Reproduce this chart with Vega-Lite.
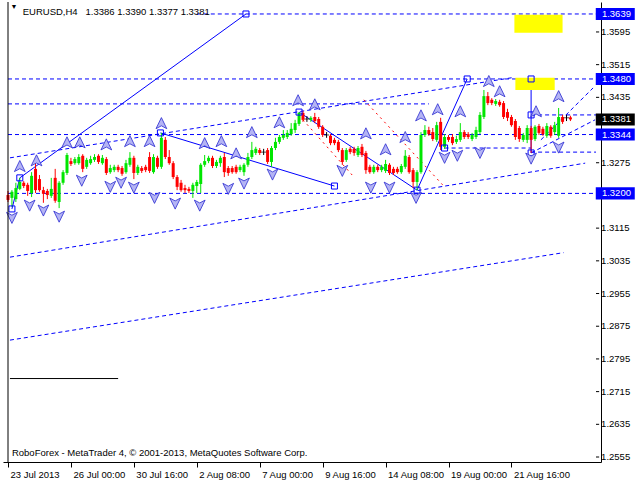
{
"$schema":"https://vega.github.io/schema/vega-lite/v6.json",
"width":598,"height":460,"autosize":{"type":"none"},
"padding":{"left":3,"top":2,"right":39,"bottom":18},
"background":"white",
"config":{"view":{"stroke":null},"axis":{"labelFont":"Liberation Sans","labelFontSize":9.5,"labelColor":"black","tickColor":"black","domainColor":"black","grid":false,"title":null},"text":{"font":"Liberation Sans"}},
"datasets":{
"candles":[
{"i":0,"o":1.3196,"h":1.3206,"l":1.3179,"c":1.3184},
{"i":1,"o":1.3189,"h":1.3208,"l":1.3167,"c":1.3204},
{"i":2,"o":1.3186,"h":1.3226,"l":1.3179,"c":1.3213},
{"i":3,"o":1.3211,"h":1.3238,"l":1.3208,"c":1.3228},
{"i":4,"o":1.3226,"h":1.3230,"l":1.3213,"c":1.3218},
{"i":5,"o":1.3221,"h":1.3226,"l":1.3194,"c":1.3206},
{"i":6,"o":1.3201,"h":1.3252,"l":1.3191,"c":1.3243},
{"i":7,"o":1.3260,"h":1.3277,"l":1.3201,"c":1.3208},
{"i":8,"o":1.3235,"h":1.3245,"l":1.3204,"c":1.3208},
{"i":9,"o":1.3208,"h":1.3216,"l":1.3177,"c":1.3199},
{"i":10,"o":1.3206,"h":1.3211,"l":1.3186,"c":1.3196},
{"i":11,"o":1.3194,"h":1.3238,"l":1.3189,"c":1.3211},
{"i":12,"o":1.3238,"h":1.3260,"l":1.3177,"c":1.3182},
{"i":13,"o":1.3179,"h":1.3230,"l":1.3164,"c":1.3226},
{"i":14,"o":1.3226,"h":1.3257,"l":1.3221,"c":1.3252},
{"i":15,"o":1.3250,"h":1.3299,"l":1.3245,"c":1.3294},
{"i":16,"o":1.3279,"h":1.3287,"l":1.3267,"c":1.3272},
{"i":17,"o":1.3274,"h":1.3289,"l":1.3270,"c":1.3284},
{"i":18,"o":1.3274,"h":1.3296,"l":1.3270,"c":1.3289},
{"i":19,"o":1.3292,"h":1.3296,"l":1.3252,"c":1.3260},
{"i":20,"o":1.3265,"h":1.3287,"l":1.3260,"c":1.3282},
{"i":21,"o":1.3274,"h":1.3292,"l":1.3270,"c":1.3284},
{"i":22,"o":1.3282,"h":1.3296,"l":1.3277,"c":1.3289},
{"i":23,"o":1.3292,"h":1.3296,"l":1.3272,"c":1.3277},
{"i":24,"o":1.3274,"h":1.3294,"l":1.3270,"c":1.3287},
{"i":25,"o":1.3284,"h":1.3289,"l":1.3245,"c":1.3250},
{"i":26,"o":1.3252,"h":1.3270,"l":1.3248,"c":1.3262},
{"i":27,"o":1.3257,"h":1.3270,"l":1.3252,"c":1.3265},
{"i":28,"o":1.3265,"h":1.3270,"l":1.3252,"c":1.3257},
{"i":29,"o":1.3262,"h":1.3267,"l":1.3243,"c":1.3248},
{"i":30,"o":1.3252,"h":1.3282,"l":1.3248,"c":1.3274},
{"i":31,"o":1.3270,"h":1.3301,"l":1.3265,"c":1.3287},
{"i":32,"o":1.3287,"h":1.3292,"l":1.3235,"c":1.3250},
{"i":33,"o":1.3250,"h":1.3270,"l":1.3245,"c":1.3265},
{"i":34,"o":1.3262,"h":1.3267,"l":1.3250,"c":1.3255},
{"i":35,"o":1.3265,"h":1.3270,"l":1.3252,"c":1.3257},
{"i":36,"o":1.3289,"h":1.3301,"l":1.3250,"c":1.3255},
{"i":37,"o":1.3252,"h":1.3296,"l":1.3248,"c":1.3289},
{"i":38,"o":1.3287,"h":1.3292,"l":1.3260,"c":1.3265},
{"i":39,"o":1.3265,"h":1.3348,"l":1.3260,"c":1.3336},
{"i":40,"o":1.3331,"h":1.3338,"l":1.3284,"c":1.3289},
{"i":41,"o":1.3289,"h":1.3306,"l":1.3270,"c":1.3274},
{"i":42,"o":1.3274,"h":1.3279,"l":1.3235,"c":1.3240},
{"i":43,"o":1.3240,"h":1.3245,"l":1.3208,"c":1.3216},
{"i":44,"o":1.3226,"h":1.3233,"l":1.3204,"c":1.3208},
{"i":45,"o":1.3213,"h":1.3221,"l":1.3201,"c":1.3208},
{"i":46,"o":1.3211,"h":1.3216,"l":1.3201,"c":1.3206},
{"i":47,"o":1.3206,"h":1.3226,"l":1.3189,"c":1.3221},
{"i":48,"o":1.3218,"h":1.3233,"l":1.3201,"c":1.3228},
{"i":49,"o":1.3223,"h":1.3274,"l":1.3201,"c":1.3270},
{"i":50,"o":1.3270,"h":1.3294,"l":1.3265,"c":1.3279},
{"i":51,"o":1.3279,"h":1.3292,"l":1.3274,"c":1.3287},
{"i":52,"o":1.3287,"h":1.3292,"l":1.3262,"c":1.3267},
{"i":53,"o":1.3267,"h":1.3282,"l":1.3262,"c":1.3277},
{"i":54,"o":1.3274,"h":1.3292,"l":1.3265,"c":1.3287},
{"i":55,"o":1.3289,"h":1.3299,"l":1.3240,"c":1.3252},
{"i":56,"o":1.3262,"h":1.3267,"l":1.3243,"c":1.3250},
{"i":57,"o":1.3262,"h":1.3267,"l":1.3248,"c":1.3252},
{"i":58,"o":1.3265,"h":1.3270,"l":1.3248,"c":1.3252},
{"i":59,"o":1.3257,"h":1.3270,"l":1.3252,"c":1.3265},
{"i":60,"o":1.3252,"h":1.3274,"l":1.3243,"c":1.3270},
{"i":61,"o":1.3270,"h":1.3299,"l":1.3265,"c":1.3289},
{"i":62,"o":1.3289,"h":1.3326,"l":1.3284,"c":1.3306},
{"i":63,"o":1.3299,"h":1.3314,"l":1.3294,"c":1.3309},
{"i":64,"o":1.3306,"h":1.3311,"l":1.3294,"c":1.3299},
{"i":65,"o":1.3301,"h":1.3309,"l":1.3294,"c":1.3301},
{"i":66,"o":1.3306,"h":1.3311,"l":1.3272,"c":1.3277},
{"i":67,"o":1.3277,"h":1.3316,"l":1.3265,"c":1.3311},
{"i":68,"o":1.3311,"h":1.3336,"l":1.3306,"c":1.3326},
{"i":69,"o":1.3326,"h":1.3343,"l":1.3321,"c":1.3338},
{"i":70,"o":1.3336,"h":1.3355,"l":1.3331,"c":1.3343},
{"i":71,"o":1.3338,"h":1.3355,"l":1.3333,"c":1.3348},
{"i":72,"o":1.3345,"h":1.3372,"l":1.3341,"c":1.3358},
{"i":73,"o":1.3355,"h":1.3380,"l":1.3348,"c":1.3372},
{"i":74,"o":1.3370,"h":1.3399,"l":1.3365,"c":1.3397},
{"i":75,"o":1.3397,"h":1.3402,"l":1.3375,"c":1.3380},
{"i":76,"o":1.3382,"h":1.3389,"l":1.3375,"c":1.3382},
{"i":77,"o":1.3380,"h":1.3389,"l":1.3375,"c":1.3385},
{"i":78,"o":1.3387,"h":1.3397,"l":1.3372,"c":1.3377},
{"i":79,"o":1.3382,"h":1.3387,"l":1.3358,"c":1.3363},
{"i":80,"o":1.3363,"h":1.3367,"l":1.3338,"c":1.3343},
{"i":81,"o":1.3343,"h":1.3350,"l":1.3336,"c":1.3343},
{"i":82,"o":1.3341,"h":1.3345,"l":1.3318,"c":1.3323},
{"i":83,"o":1.3331,"h":1.3336,"l":1.3318,"c":1.3323},
{"i":84,"o":1.3326,"h":1.3331,"l":1.3301,"c":1.3306},
{"i":85,"o":1.3306,"h":1.3311,"l":1.3270,"c":1.3277},
{"i":86,"o":1.3282,"h":1.3311,"l":1.3277,"c":1.3306},
{"i":87,"o":1.3309,"h":1.3314,"l":1.3296,"c":1.3301},
{"i":88,"o":1.3309,"h":1.3314,"l":1.3292,"c":1.3299},
{"i":89,"o":1.3294,"h":1.3316,"l":1.3289,"c":1.3311},
{"i":90,"o":1.3314,"h":1.3321,"l":1.3289,"c":1.3294},
{"i":91,"o":1.3299,"h":1.3304,"l":1.3248,"c":1.3257},
{"i":92,"o":1.3265,"h":1.3270,"l":1.3248,"c":1.3252},
{"i":93,"o":1.3252,"h":1.3270,"l":1.3248,"c":1.3265},
{"i":94,"o":1.3265,"h":1.3270,"l":1.3252,"c":1.3257},
{"i":95,"o":1.3257,"h":1.3270,"l":1.3252,"c":1.3265},
{"i":96,"o":1.3255,"h":1.3282,"l":1.3250,"c":1.3272},
{"i":97,"o":1.3270,"h":1.3274,"l":1.3245,"c":1.3250},
{"i":98,"o":1.3260,"h":1.3265,"l":1.3245,"c":1.3250},
{"i":99,"o":1.3260,"h":1.3265,"l":1.3248,"c":1.3252},
{"i":100,"o":1.3252,"h":1.3272,"l":1.3248,"c":1.3267},
{"i":101,"o":1.3265,"h":1.3306,"l":1.3260,"c":1.3292},
{"i":102,"o":1.3289,"h":1.3294,"l":1.3248,"c":1.3252},
{"i":103,"o":1.3257,"h":1.3262,"l":1.3213,"c":1.3228},
{"i":104,"o":1.3228,"h":1.3257,"l":1.3208,"c":1.3252},
{"i":105,"o":1.3252,"h":1.3350,"l":1.3248,"c":1.3343},
{"i":106,"o":1.3343,"h":1.3367,"l":1.3338,"c":1.3355},
{"i":107,"o":1.3355,"h":1.3363,"l":1.3341,"c":1.3345},
{"i":108,"o":1.3350,"h":1.3360,"l":1.3328,"c":1.3333},
{"i":109,"o":1.3331,"h":1.3375,"l":1.3326,"c":1.3367},
{"i":110,"o":1.3375,"h":1.3385,"l":1.3306,"c":1.3314},
{"i":111,"o":1.3314,"h":1.3345,"l":1.3309,"c":1.3338},
{"i":112,"o":1.3338,"h":1.3343,"l":1.3326,"c":1.3331},
{"i":113,"o":1.3338,"h":1.3345,"l":1.3318,"c":1.3323},
{"i":114,"o":1.3326,"h":1.3341,"l":1.3321,"c":1.3333},
{"i":115,"o":1.3331,"h":1.3372,"l":1.3326,"c":1.3350},
{"i":116,"o":1.3350,"h":1.3355,"l":1.3333,"c":1.3338},
{"i":117,"o":1.3345,"h":1.3350,"l":1.3333,"c":1.3338},
{"i":118,"o":1.3333,"h":1.3348,"l":1.3328,"c":1.3343},
{"i":119,"o":1.3338,"h":1.3363,"l":1.3333,"c":1.3355},
{"i":120,"o":1.3350,"h":1.3399,"l":1.3345,"c":1.3392},
{"i":121,"o":1.3387,"h":1.3453,"l":1.3382,"c":1.3438},
{"i":122,"o":1.3438,"h":1.3448,"l":1.3416,"c":1.3421},
{"i":123,"o":1.3429,"h":1.3433,"l":1.3416,"c":1.3421},
{"i":124,"o":1.3419,"h":1.3431,"l":1.3414,"c":1.3426},
{"i":125,"o":1.3424,"h":1.3429,"l":1.3412,"c":1.3416},
{"i":126,"o":1.3421,"h":1.3426,"l":1.3382,"c":1.3387},
{"i":127,"o":1.3399,"h":1.3407,"l":1.3377,"c":1.3385},
{"i":128,"o":1.3387,"h":1.3392,"l":1.3363,"c":1.3367},
{"i":129,"o":1.3377,"h":1.3382,"l":1.3331,"c":1.3338},
{"i":130,"o":1.3360,"h":1.3365,"l":1.3326,"c":1.3333},
{"i":131,"o":1.3331,"h":1.3348,"l":1.3326,"c":1.3343},
{"i":132,"o":1.3331,"h":1.3367,"l":1.3323,"c":1.3360},
{"i":133,"o":1.3360,"h":1.3365,"l":1.3299,"c":1.3331},
{"i":134,"o":1.3333,"h":1.3367,"l":1.3328,"c":1.3363},
{"i":135,"o":1.3365,"h":1.3370,"l":1.3343,"c":1.3348},
{"i":136,"o":1.3358,"h":1.3363,"l":1.3341,"c":1.3345},
{"i":137,"o":1.3341,"h":1.3372,"l":1.3336,"c":1.3365},
{"i":138,"o":1.3363,"h":1.3367,"l":1.3336,"c":1.3341},
{"i":139,"o":1.3350,"h":1.3375,"l":1.3343,"c":1.3367},
{"i":140,"o":1.3341,"h":1.3409,"l":1.3336,"c":1.3387},
{"i":141,"o":1.3387,"h":1.3392,"l":1.3370,"c":1.3375},
{"i":142,"o":1.3385,"h":1.3392,"l":1.3377,"c":1.3385},
{"i":143,"o":1.3386,"h":1.3390,"l":1.3377,"c":1.3381}
],
"arrows":[
{"i":3,"p":1.3265,"d":"u"},{"i":7.25,"p":1.3279,"d":"u"},{"i":15,"p":1.3323,"d":"u"},{"i":18.25,"p":1.3323,"d":"u"},{"i":25,"p":1.3318,"d":"u"},{"i":31,"p":1.3326,"d":"u"},{"i":36,"p":1.3326,"d":"u"},{"i":39,"p":1.3370,"d":"u"},{"i":50,"p":1.3321,"d":"u"},{"i":54.25,"p":1.3326,"d":"u"},{"i":58,"p":1.3296,"d":"u"},{"i":62,"p":1.3348,"d":"u"},{"i":69,"p":1.3372,"d":"u"},{"i":73.75,"p":1.3426,"d":"u"},{"i":78,"p":1.3416,"d":"u"},{"i":91,"p":1.3345,"d":"u"},{"i":96,"p":1.3306,"d":"u"},{"i":101,"p":1.3336,"d":"u"},{"i":105,"p":1.3389,"d":"u"},{"i":109.25,"p":1.3404,"d":"u"},{"i":115,"p":1.3399,"d":"u"},{"i":122.25,"p":1.3473,"d":"u"},{"i":125,"p":1.3448,"d":"u"},{"i":134.25,"p":1.3399,"d":"u"},{"i":140,"p":1.3436,"d":"u"},
{"i":1,"p":1.3142,"d":"d"},{"i":5.5,"p":1.3172,"d":"d"},{"i":9,"p":1.3160,"d":"d"},{"i":13,"p":1.3145,"d":"d"},{"i":18.75,"p":1.3233,"d":"d"},{"i":26,"p":1.3218,"d":"d"},{"i":28.75,"p":1.3228,"d":"d"},{"i":32,"p":1.3216,"d":"d"},{"i":37.25,"p":1.3191,"d":"d"},{"i":42.5,"p":1.3177,"d":"d"},{"i":48.75,"p":1.3172,"d":"d"},{"i":56,"p":1.3213,"d":"d"},{"i":60,"p":1.3226,"d":"d"},{"i":67.25,"p":1.3248,"d":"d"},{"i":85,"p":1.3257,"d":"d"},{"i":92.25,"p":1.3216,"d":"d"},{"i":97,"p":1.3216,"d":"d"},{"i":103.75,"p":1.3191,"d":"d"},{"i":111,"p":1.3289,"d":"d"},{"i":114.25,"p":1.3294,"d":"d"},{"i":120,"p":1.3301,"d":"d"},{"i":133,"p":1.3287,"d":"d"},{"i":140,"p":1.3314,"d":"d"}
],
"hlines":[
{"p":1.3639,"i1":48,"i2":149.5},{"p":1.3480,"i1":0,"i2":149.5},{"p":1.3419,"i1":0,"i2":107},{"p":1.3344,"i1":0,"i2":149.5},{"p":1.3301,"i1":133,"i2":149.5},{"p":1.3200,"i1":0,"i2":149.5},{"p":1.3392,"i1":133,"i2":149.5},{"p":1.3311,"i1":111,"i2":133}
],
"dlines":[
{"i1":0.5,"p1":1.3287,"i2":128.75,"p2":1.3484},
{"i1":0.5,"p1":1.3044,"i2":146.75,"p2":1.3274},
{"i1":0.5,"p1":1.2841,"i2":141.25,"p2":1.3055},
{"i1":135.5,"p1":1.3331,"i2":148.75,"p2":1.3458},
{"i1":133,"p1":1.3299,"i2":149.25,"p2":1.3380}
],
"rlines":[
{"i1":75,"p1":1.3380,"i2":87.5,"p2":1.3245},
{"i1":90.5,"p1":1.3429,"i2":110.5,"p2":1.3221}
],
"slines":[
{"i1":1,"p1":1.3162,"i2":3,"p2":1.3238},
{"i1":3,"p1":1.3238,"i2":60.5,"p2":1.3639},
{"i1":38.75,"p1":1.3348,"i2":83,"p2":1.3218},
{"i1":74,"p1":1.3399,"i2":104,"p2":1.3208},
{"i1":104,"p1":1.3208,"i2":116.75,"p2":1.3480},
{"i1":133,"p1":1.3480,"i2":133,"p2":1.3299}
],
"squares":[
{"i":1,"p":1.3162},{"i":3,"p":1.3238},{"i":60.5,"p":1.3639},{"i":38.75,"p":1.3348},{"i":83,"p":1.3218},{"i":74,"p":1.3399},{"i":104,"p":1.3208},{"i":116.75,"p":1.3480},{"i":133,"p":1.3480},{"i":133,"p":1.3392},{"i":133,"p":1.3299},{"i":111,"p":1.3311}
],
"blackline":[{"i1":0.5,"i2":28,"p":1.2747}],
"yellow":[
{"i1":128.75,"i2":141,"p1":1.3637,"p2":1.3593},
{"i1":129,"i2":139,"p1":1.3483,"p2":1.3453}
],
"boxes":[
{"p":1.3639,"k":"b"},{"p":1.3480,"k":"b"},{"p":1.3381,"k":"k"},{"p":1.3344,"k":"b"},{"p":1.3200,"k":"b"}
],
"yticks":[
{"v":1.2555,"s":1},{"v":1.2635,"s":1},{"v":1.2715,"s":1},{"v":1.2795,"s":1},{"v":1.2875,"s":1},{"v":1.2955,"s":1},{"v":1.3035,"s":1},{"v":1.3115,"s":1},{"v":1.3195,"s":0},{"v":1.3275,"s":1},{"v":1.3355,"s":0},{"v":1.3435,"s":1},{"v":1.3515,"s":1},{"v":1.3595,"s":1}
],
"labels":[
{"t":"EURUSD,H4\u00a0\u00a0 1.3386 1.3390 1.3377 1.3381","i":3.75,"p":1.3636},
{"t":"RoboForex - MetaTrader 4, © 2001-2013, MetaQuotes Software Corp.","i":1,"p":1.2557}
]
},
"layer":[
{"data":{"name":"hlines"},"mark":{"type":"rule","color":"#0000ff","strokeDash":[4,3],"strokeWidth":1},
 "encoding":{
  "x":{"field":"i1","type":"quantitative","scale":{"domain":[0,149.5],"nice":false,"zero":false},
   "axis":{"orient":"bottom","values":[0,16,32,48,64,80,96,112,128],"labelAlign":"left","labelOffset":2,"tickSize":5,"labelPadding":2,"labelFlush":false,"labelOverlap":false,"labelBaseline":"top","title":null,
   "labelExpr":"['23 Jul 2013','26 Jul 00:00','30 Jul 16:00','2 Aug 08:00','7 Aug 00:00','9 Aug 16:00','14 Aug 08:00','19 Aug 00:00','21 Aug 16:00'][round(datum.value/16)]"}},
  "x2":{"field":"i2"},
  "y":{"field":"p","type":"quantitative","scale":{"domain":[1.25428,1.36683],"nice":false,"zero":false},
   "axis":{"orient":"right","labels":false,"ticks":false,"domain":true,"title":null}}
 }},
{"data":{"name":"dlines"},"mark":{"type":"rule","color":"#0000ff","strokeDash":[4,3],"strokeWidth":1},
 "encoding":{"x":{"field":"i1","type":"quantitative","title":null},"x2":{"field":"i2"},"y":{"field":"p1","type":"quantitative","title":null},"y2":{"field":"p2"}}},
{"data":{"name":"rlines"},"mark":{"type":"rule","color":"#ff0000","strokeDash":[2,4],"strokeWidth":1},
 "encoding":{"x":{"field":"i1","type":"quantitative","title":null},"x2":{"field":"i2"},"y":{"field":"p1","type":"quantitative","title":null},"y2":{"field":"p2"}}},
{"data":{"name":"slines"},"mark":{"type":"rule","color":"#0000ff","strokeWidth":1},
 "encoding":{"x":{"field":"i1","type":"quantitative","title":null},"x2":{"field":"i2"},"y":{"field":"p1","type":"quantitative","title":null},"y2":{"field":"p2"}}},
{"data":{"name":"blackline"},"mark":{"type":"rule","color":"#000000","strokeWidth":1},
 "encoding":{"x":{"field":"i1","type":"quantitative","title":null},"x2":{"field":"i2"},"y":{"field":"p","type":"quantitative","title":null}}},
{"data":{"name":"yellow"},"mark":{"type":"rect","color":"#ffff00"},
 "encoding":{"x":{"field":"i1","type":"quantitative","title":null},"x2":{"field":"i2"},"y":{"field":"p1","type":"quantitative","title":null},"y2":{"field":"p2"}}},
{"data":{"name":"candles"},"mark":{"type":"rule","strokeWidth":1},
 "encoding":{"x":{"field":"i","type":"quantitative","title":null},"y":{"field":"l","type":"quantitative","title":null},"y2":{"field":"h"},
  "color":{"condition":[{"test":"datum.c > datum.o","value":"#00e600"},{"test":"datum.c == datum.o","value":"#000000"}],"value":"#ff0000"}}},
{"data":{"name":"candles"},"mark":{"type":"bar","width":3},
 "encoding":{"x":{"field":"i","type":"quantitative","title":null},"y":{"field":"o","type":"quantitative","title":null},"y2":{"field":"c"},
  "color":{"condition":[{"test":"datum.c > datum.o","value":"#00e600"}],"value":"#ff0000"}}},
{"data":{"name":"candles"},"transform":[{"filter":"datum.o == datum.c"}],"mark":{"type":"tick","orient":"horizontal","size":5,"thickness":1,"color":"#000000"},
 "encoding":{"x":{"field":"i","type":"quantitative","title":null},"y":{"field":"o","type":"quantitative","title":null}}},
{"data":{"name":"squares"},"mark":{"type":"point","shape":"square","filled":false,"stroke":"#0000ff","strokeWidth":1,"size":36,"opacity":1},
 "encoding":{"x":{"field":"i","type":"quantitative","title":null},"y":{"field":"p","type":"quantitative","title":null}}},
{"data":{"name":"arrows"},"mark":{"type":"point","filled":true,"fill":"#b4b4f4","stroke":"#2a2ad0","strokeWidth":0.8,"size":160,"opacity":1},
 "encoding":{"x":{"field":"i","type":"quantitative","title":null},"y":{"field":"p","type":"quantitative","title":null},
  "shape":{"field":"d","type":"nominal","legend":null,"scale":{"domain":["u","d"],"range":["M0,-1 L0.85,0.75 L0,0.3 L-0.85,0.75 Z","M0,1 L0.85,-0.75 L0,-0.3 L-0.85,-0.75 Z"]}}}},
{"data":{"name":"yticks"},"mark":{"type":"rule","color":"#000000","strokeWidth":1},
 "encoding":{"x":{"datum":149.5,"type":"quantitative"},"x2":{"datum":150.3},"y":{"field":"v","type":"quantitative","title":null}}},
{"data":{"name":"yticks"},"transform":[{"filter":"datum.s == 1"}],"mark":{"type":"text","align":"left","baseline":"middle","color":"#000000","fontSize":9.5},
 "encoding":{"x":{"datum":150.8,"type":"quantitative"},"y":{"field":"v","type":"quantitative","title":null},"text":{"field":"v","format":".4f"}}},
{"data":{"name":"boxes"},"mark":{"type":"point","filled":true,"size":1521,"shape":"M-1,-0.31 L1,-0.31 L1,0.31 L-1,0.31 Z","opacity":1,"strokeWidth":0},
 "encoding":{"x":{"datum":154.4,"type":"quantitative"},"y":{"field":"p","type":"quantitative","title":null},
  "color":{"condition":{"test":"datum.k == 'k'","value":"#000000"},"value":"#0000ff"}}},
{"data":{"name":"boxes"},"mark":{"type":"text","align":"left","baseline":"middle","color":"white","fontSize":9.5},
 "encoding":{"x":{"datum":151,"type":"quantitative"},"y":{"field":"p","type":"quantitative","title":null},"text":{"field":"p","format":".4f"}}},
{"data":{"values":[{}]},"mark":{"type":"rule","color":"#000000"},"encoding":{"x":{"datum":0,"type":"quantitative"}}},
{"data":{"name":"labels"},"mark":{"type":"text","align":"left","baseline":"alphabetic","fontSize":9.5,"color":"#000000"},
 "encoding":{"x":{"field":"i","type":"quantitative","title":null},"y":{"field":"p","type":"quantitative","title":null},"text":{"field":"t"}}},
{"data":{"values":[{"t":"▼"}]},"mark":{"type":"text","align":"center","baseline":"middle","fontSize":7,"color":"#000000"},
 "encoding":{"x":{"datum":1.5,"type":"quantitative"},"y":{"datum":1.3655,"type":"quantitative"},"text":{"field":"t"}}}
]
}
